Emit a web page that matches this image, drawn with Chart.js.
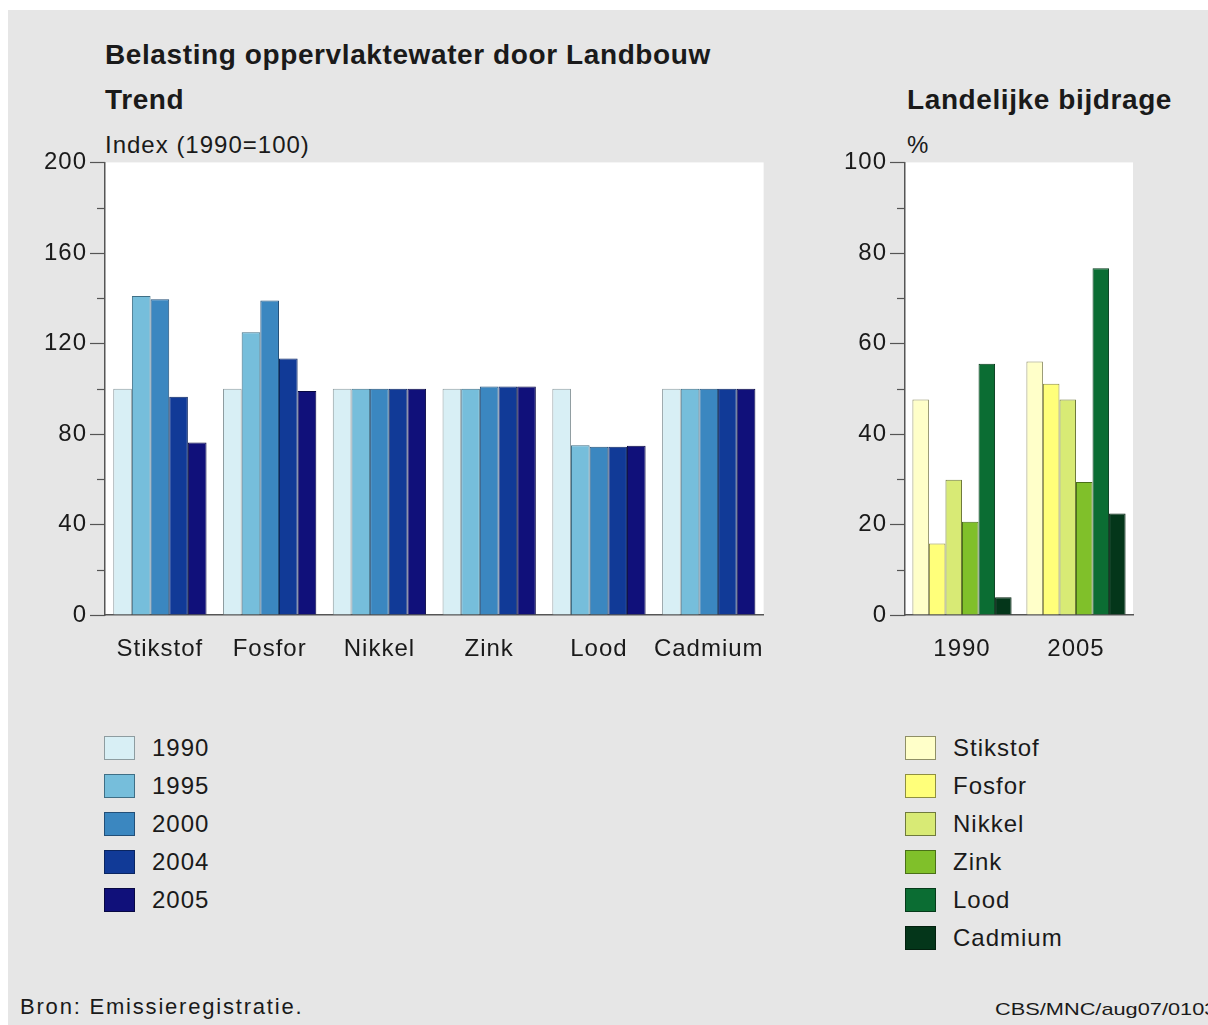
<!DOCTYPE html>
<html>
<head>
<meta charset="utf-8">
<script src="https://cdn.jsdelivr.net/npm/chart.js@4.4.1/dist/chart.umd.min.js"></script>
<style>
  html,body{margin:0;padding:0;background:#fff;}
  body{width:1208px;height:1025px;position:relative;overflow:hidden;font-family:"Liberation Sans",Arial,sans-serif;color:#1a1a1a;}
  #bg{position:absolute;left:8px;top:10px;right:0;bottom:0;background:#e6e6e6;}
  .t{position:absolute;white-space:nowrap;letter-spacing:1px;}
  .big{font-size:28px;line-height:28px;font-weight:bold;letter-spacing:0.6px;}
  .sm{font-size:24px;line-height:24px;}
  canvas{position:absolute;}
  .legend{position:absolute;}
  .row{display:flex;align-items:center;height:38px;}
  .box{width:29px;height:22px;border:1.5px solid #444;margin-right:17px;}
  .row span{font-size:24px;letter-spacing:1px;}
</style>
</head>
<body>
<div id="bg"></div>
<div class="t big" style="left:105px;top:41px;">Belasting oppervlaktewater door Landbouw</div>
<div class="t big" style="left:105px;top:86px;">Trend</div>
<div class="t sm" style="left:105px;top:133px;">Index (1990=100)</div>
<div class="t big" style="left:907px;top:86px;">Landelijke bijdrage</div>
<div class="t sm" style="left:907px;top:133px;">%</div>

<canvas id="trend" width="785" height="540" style="left:0;top:130px;"></canvas>
<canvas id="share" width="408" height="540" style="left:800px;top:130px;"></canvas>

<div class="legend" id="legTrend" style="left:104px;top:729px;"></div>
<div class="legend" id="legShare" style="left:905px;top:729px;"></div>

<div class="t" style="left:20px;top:996px;font-size:22px;line-height:22px;letter-spacing:1.8px;">Bron: Emissieregistratie.</div>
<div class="t" style="left:995px;top:1001px;font-size:17px;line-height:17px;letter-spacing:0;transform:scaleX(1.28);transform-origin:left top;">CBS/MNC/aug07/0103</div>

<script>
// ---- data: trend (index 1990=100)
var categories=["Stikstof","Fosfor","Nikkel","Zink","Lood","Cadmium"];
var trendYears=["1990","1995","2000","2004","2005"];
var trend1990=[100,100,100,100,100,100];
var trend1995=[141,125,100,100,75,100];
var trend2000=[139.5,139,100,101,74.3,100];
var trend2004=[96.4,113.3,100,101,74.3,100];
var trend2005=[76.2,99,100,101,74.8,100];

// ---- data: landelijke bijdrage (%)
var shareYears=["1990","2005"];
var shareStikstof=[47.6,56];
var shareFosfor=[15.8,51.1];
var shareNikkel=[29.9,47.6];
var shareZink=[20.6,29.4];
var shareLood=[55.5,76.6];
var shareCadmium=[3.9,22.4];

var trendFill=["#d8eff5","#76bedb","#3b87c0","#113a97","#10107a"];
var trendEdge=["#8e9ca0","#3f6f86","#224f78","#0a2560","#080842"];
var shareFill=["#ffffc9","#ffff7a","#d8ea75","#80c02a","#0b6d33","#04361a"];
var shareEdge=["#8f8f66","#8f8f40","#6f7a3c","#4a7018","#053a1a","#02200e"];

var FONT='"Liberation Sans", Arial, sans-serif';

// white plot area + own tick marks (long at labels, short between)
var plotPlugin={
  id:"plotExtras",
  beforeUpdate:function(chart){ chart.ctx.letterSpacing="1px"; },
  beforeDraw:function(chart){
    var a=chart.chartArea, ctx=chart.ctx;
    ctx.letterSpacing="1px";
    ctx.save();
    ctx.fillStyle="#fff";
    ctx.fillRect(a.left,a.top,a.right-a.left,a.bottom-a.top);
    ctx.restore();
  },
  afterDraw:function(chart){
    var s=chart.scales.y, ctx=chart.ctx, a=chart.chartArea;
    var major=chart.options.plugins.plotExtras.major;
    ctx.save();
    ctx.strokeStyle="#555";
    ctx.lineWidth=1.2;
    s.ticks.forEach(function(t){
      var y=Math.round(s.getPixelForValue(t.value))+0.5;
      var len=(t.value%major===0)?15:8;
      ctx.beginPath();
      ctx.moveTo(a.left-len,y);
      ctx.lineTo(a.left,y);
      ctx.stroke();
    });
    ctx.restore();
  }
};

function makeOptions(max,step,major,axisW,padRight){
  return {
    responsive:false,
    animation:false,
    layout:{padding:{top:12,right:padRight,left:0,bottom:0}},
    plugins:{legend:{display:false},tooltip:{enabled:false},plotExtras:{major:major}},
    datasets:{bar:{barPercentage:1.0,borderWidth:1}},
    scales:{
      x:{
        grid:{display:false,drawTicks:false},
        border:{display:true,color:"#555",width:1.5},
        ticks:{color:"#1a1a1a",font:{family:FONT,size:24},padding:20,maxRotation:0,autoSkip:false},
        afterFit:function(sc){ sc.height=55; }
      },
      y:{
        min:0,max:max,
        grid:{drawOnChartArea:false,drawTicks:false},
        border:{display:true,color:"#555",width:1.5},
        ticks:{stepSize:step,color:"#1a1a1a",font:{family:FONT,size:24},padding:18,autoSkip:false,
          callback:function(v){ return v%major===0?v:""; }},
        afterFit:function(sc){ sc.width=axisW; }
      }
    }
  };
}

var trendSeries=[trend1990,trend1995,trend2000,trend2004,trend2005];
var trendChart=new Chart(document.getElementById("trend"),{
  type:"bar",
  data:{
    labels:categories,
    datasets:trendSeries.map(function(d,i){
      return {label:trendYears[i],data:d,backgroundColor:trendFill[i],borderColor:trendEdge[i],categoryPercentage:0.85};
    })
  },
  options:makeOptions(200,20,40,105,17),
  plugins:[plotPlugin]
});

var shareSeries=[shareStikstof,shareFosfor,shareNikkel,shareZink,shareLood,shareCadmium];
var shareChart=new Chart(document.getElementById("share"),{
  type:"bar",
  data:{
    labels:shareYears,
    datasets:shareSeries.map(function(d,i){
      return {label:categories[i],data:d,backgroundColor:shareFill[i],borderColor:shareEdge[i],categoryPercentage:0.87};
    })
  },
  options:makeOptions(100,10,20,105,75),
  plugins:[plotPlugin]
});

// legends, built from the same arrays
function buildLegend(id,labels,fills,edges){
  var el=document.getElementById(id);
  labels.forEach(function(lab,i){
    var row=document.createElement("div");
    row.className="row";
    var b=document.createElement("div");
    b.className="box";
    b.style.background=fills[i];
    b.style.borderColor=edges[i];
    var s=document.createElement("span");
    s.textContent=lab;
    row.appendChild(b);row.appendChild(s);
    el.appendChild(row);
  });
}
buildLegend("legTrend",trendYears,trendFill,trendEdge);
buildLegend("legShare",categories,shareFill,shareEdge);
</script>
</body>
</html>
